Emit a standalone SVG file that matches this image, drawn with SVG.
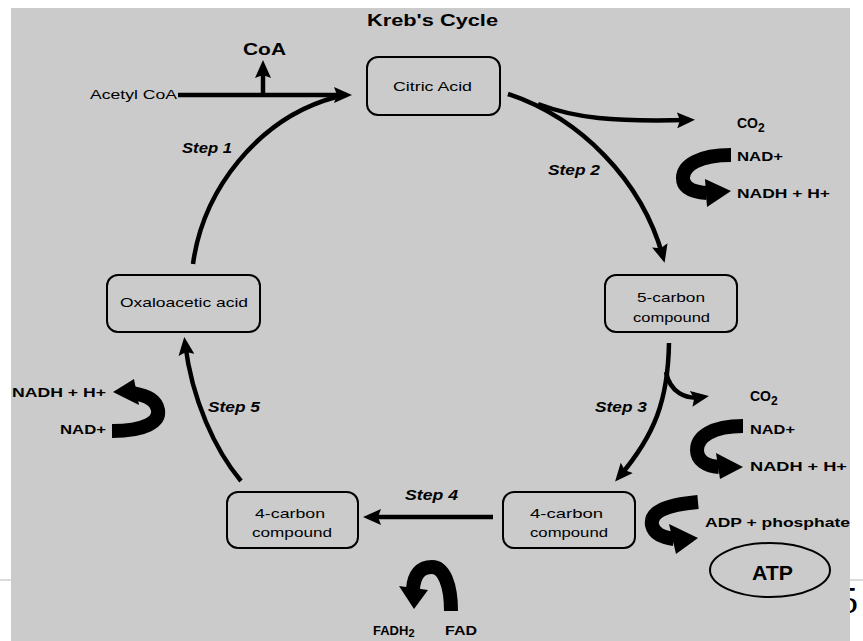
<svg xmlns="http://www.w3.org/2000/svg" width="863" height="641" viewBox="0 0 863 641">
<defs>
<style>
.t{font-family:"Liberation Sans",Arial,sans-serif;fill:#000}
.r{font-size:13px}
.b{font-size:13px;font-weight:bold}
.s{font-size:14px;font-weight:bold;font-style:italic}
.box{fill:none;stroke:#000;stroke-width:2}
.ln{fill:none;stroke:#000;stroke-width:4.5}
.thk{fill:none;stroke:#000;stroke-width:14}
</style>
<marker id="ah" markerUnits="userSpaceOnUse" markerWidth="18" markerHeight="16" refX="12" refY="8" orient="auto">
<path d="M0,0 L18,8 L0,16 L3,8 z" fill="#000"/>
</marker>
</defs>
<rect width="863" height="641" fill="#fff"/>
<line x1="0" y1="580" x2="863" y2="580" stroke="#cfcfcf" stroke-width="1.5"/>
<text x="839" y="613" font-family="Liberation Serif,serif" font-size="38">5</text>
<rect x="11" y="8" width="839" height="633" fill="#cbcbcb"/>

<text class="t" x="367" y="26" font-size="17" font-weight="bold" textLength="131" lengthAdjust="spacingAndGlyphs">Kreb's Cycle</text>

<g id="citric-acid"><rect class="box" x="367" y="57" width="133" height="58" rx="11"/><text class="t r" x="393" y="91" textLength="79" lengthAdjust="spacingAndGlyphs">Citric Acid</text></g>
<g id="five-carbon"><rect class="box" x="605" y="275" width="132" height="57" rx="11"/><text class="t r" x="637" y="302" textLength="68" lengthAdjust="spacingAndGlyphs">5-carbon</text><text class="t r" x="633" y="322" textLength="77" lengthAdjust="spacingAndGlyphs">compound</text></g>
<g id="four-carbon-right"><rect class="box" x="503" y="492" width="132" height="56" rx="11"/><text class="t r" x="530" y="518" textLength="73" lengthAdjust="spacingAndGlyphs">4-carbon</text><text class="t r" x="530" y="537" textLength="78" lengthAdjust="spacingAndGlyphs">compound</text></g>
<g id="four-carbon-left"><rect class="box" x="227" y="492" width="131" height="56" rx="11"/><text class="t r" x="255" y="518" textLength="70" lengthAdjust="spacingAndGlyphs">4-carbon</text><text class="t r" x="252" y="537" textLength="80" lengthAdjust="spacingAndGlyphs">compound</text></g>
<g id="oxaloacetic-acid"><rect class="box" x="107" y="275" width="153" height="57" rx="11"/><text class="t r" x="120" y="307" textLength="128" lengthAdjust="spacingAndGlyphs">Oxaloacetic acid</text></g>
<g id="atp"><ellipse cx="770" cy="570" rx="60" ry="27" fill="none" stroke="#000" stroke-width="2"/><text class="t" x="752" y="580" font-size="20" font-weight="bold" textLength="41" lengthAdjust="spacingAndGlyphs">ATP</text></g>

<g id="connectors">
<path class="ln" d="M178 95 L346 95" marker-end="url(#ah)"/>
<path class="ln" d="M263 95 L263 66" marker-end="url(#ah)"/>
<path class="ln" d="M193 264 C203 190 258 118 336 97"/>
<path class="ln" d="M508 94 C580 118 642 180 663 257" marker-end="url(#ah)"/>
<path class="ln" d="M538 104 C575 118 612 122 689 120" marker-end="url(#ah)"/>
<path class="ln" d="M669 343 C668 400 655 435 619 477" marker-end="url(#ah)"/>
<path class="ln" d="M666 372 C670 392 685 400 703 397" marker-end="url(#ah)"/>
<path class="ln" d="M493 517 L369 517" marker-end="url(#ah)"/>
<path class="ln" d="M241 481 C215 450 192 400 185 343" marker-end="url(#ah)"/>

<path class="thk" d="M731 155 C700 155 683 165 683 178 C683 188 692 192 707 193"/>
<path d="M705 179 L731 191 L707 207 z"/>
<path class="thk" stroke-width="16" d="M743 426 C712 426 697 437 697 450 C697 460 706 466 719 467"/>
<path d="M716 453 L743 467 L720 479 z"/>
<path class="thk" stroke-width="16" d="M698 502 C665 505 650 512 652 525 C654 534 662 537 674 539"/>
<path d="M669 524 L698 538 L676 554 z"/>
<path class="thk" stroke-width="16" d="M112 431 C145 431 160 422 158 410 C156 400 148 396 133 393"/>
<path d="M113 392 L134 379 L139 405 z"/>
<path class="thk" stroke-width="16" d="M451 611 C451 585 444 567 432 567 C420 567 414 575 413 589"/>
<path d="M399 586 L414 609 L428 590 z"/>
</g>

<text class="t b" x="243" y="55" textLength="43" lengthAdjust="spacingAndGlyphs" style="font-size:17px">CoA</text>
<text class="t r" x="90" y="99" textLength="87" lengthAdjust="spacingAndGlyphs">Acetyl CoA</text>
<text class="t s" x="182" y="153" textLength="50" lengthAdjust="spacingAndGlyphs">Step 1</text>
<text class="t s" x="548" y="175" textLength="52" lengthAdjust="spacingAndGlyphs">Step 2</text>
<text class="t s" x="595" y="412" textLength="52" lengthAdjust="spacingAndGlyphs">Step 3</text>
<text class="t s" x="405" y="500" textLength="53" lengthAdjust="spacingAndGlyphs">Step 4</text>
<text class="t s" x="208" y="412" textLength="52" lengthAdjust="spacingAndGlyphs">Step 5</text>

<text class="t b" x="737" y="128" style="font-size:14px">CO<tspan font-size="12" dy="4">2</tspan></text>
<text class="t b" x="737" y="161" textLength="46" lengthAdjust="spacingAndGlyphs">NAD+</text>
<text class="t b" x="737" y="198" textLength="93" lengthAdjust="spacingAndGlyphs">NADH + H+</text>
<text class="t b" x="750" y="401" style="font-size:14px">CO<tspan font-size="12" dy="4">2</tspan></text>
<text class="t b" x="750" y="434" textLength="45" lengthAdjust="spacingAndGlyphs">NAD+</text>
<text class="t b" x="750" y="471" textLength="97" lengthAdjust="spacingAndGlyphs">NADH + H+</text>
<text class="t b" x="705" y="527" textLength="145" lengthAdjust="spacingAndGlyphs">ADP + phosphate</text>
<text class="t b" x="12" y="397" textLength="94" lengthAdjust="spacingAndGlyphs">NADH + H+</text>
<text class="t b" x="60" y="434" textLength="46" lengthAdjust="spacingAndGlyphs">NAD+</text>
<text class="t b" x="373" y="635">FADH<tspan font-size="11" dy="2">2</tspan></text>
<text class="t b" x="445" y="635" textLength="32" lengthAdjust="spacingAndGlyphs">FAD</text>
</svg>
